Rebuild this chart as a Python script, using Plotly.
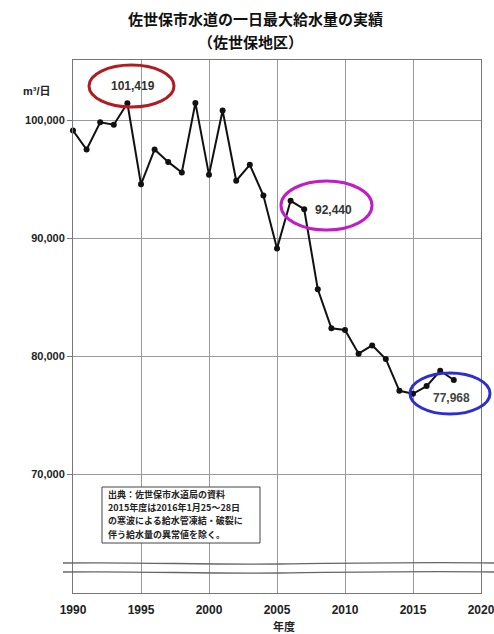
import plotly.graph_objects as go

years = list(range(1990, 2019))
supply = [99100, 97500, 99800, 99600, 101419, 94550, 97500, 96450, 95550, 101450,
          95350, 100800, 94850, 96200, 93600, 89100, 93150, 92440, 85650, 82350,
          82200, 80200, 80900, 79750, 77050, 76800, 77450, 78750, 77968]
y_ticks = [70000, 80000, 90000, 100000]
y_ticktext = ["70,000", "80,000", "90,000", "100,000"]
x_ticks = [1990, 1995, 2000, 2005, 2010, 2015, 2020]
note_lines = ["出典：佐世保市水道局の資料", "2015年度は2016年1月25～28日",
              "の寒波による給水管凍結・破裂に", "伴う給水量の異常値を除く。"]

W, H = 494, 634
L, R, T, B = 73, 481, 60, 593
JP = "Noto Sans CJK JP"
NUM = "Liberation Sans, Noto Sans CJK JP"


def px(x):
    return (x - L) / (R - L)


def py(y):
    return (B - y) / (B - T)


fig = go.Figure()
fig.add_trace(go.Scatter(
    x=years, y=supply, mode="lines+markers",
    line=dict(color="#111111", width=2),
    marker=dict(color="#111111", size=6),
    showlegend=False, hoverinfo="x+y", cliponaxis=False,
))

shapes = []
for (x0, y0, x1, y1, col) in [(89, 65, 174, 107, "#B01C22"),
                               (281, 181, 372, 230, "#C21BC8"),
                               (410, 373, 490, 414, "#2B2ED0")]:
    shapes.append(dict(type="circle", xref="paper", yref="paper",
                       x0=px(x0), x1=px(x1), y0=py(y1), y1=py(y0),
                       line=dict(color=col, width=3)))
for yb in (563, 572):
    path = "M {:.4f},{:.4f} C {:.4f},{:.4f} {:.4f},{:.4f} {:.4f},{:.4f} S {:.4f},{:.4f} {:.4f},{:.4f}".format(
        px(63), py(yb), px(150), py(yb - 1), px(200), py(yb + 2), px(280), py(yb + 1),
        px(420), py(yb - 1), px(494), py(yb))
    shapes.append(dict(type="path", xref="paper", yref="paper", path=path,
                       line=dict(color="#666666", width=1.3)))
shapes.append(dict(type="rect", xref="paper", yref="paper",
                   x0=px(102), x1=px(260), y0=py(543), y1=py(487),
                   line=dict(color="#444444", width=1), fillcolor="white"))

annotations = [
    dict(text="<b>佐世保市水道の一日最大給水量の実績</b>", x=px(255), y=py(18),
         font=dict(family=JP, size=15, color="#111111")),
    dict(text="<b>（佐世保地区）</b>", x=px(250), y=py(41),
         font=dict(family=JP, size=15, color="#111111")),
    dict(text="<b>m³/日</b>", x=px(37), y=py(91),
         font=dict(family=NUM, size=11, color="#222222")),
    dict(text="<b>101,419</b>", x=px(133), y=py(86),
         font=dict(family=NUM, size=12, color="#333333")),
    dict(text="<b>92,440</b>", x=px(333), y=py(210),
         font=dict(family=NUM, size=12, color="#333333")),
    dict(text="<b>77,968</b>", x=px(451), y=py(398),
         font=dict(family=NUM, size=12, color="#444444")),
    dict(text="<b>年度</b>", x=px(284), y=py(626),
         font=dict(family=JP, size=11, color="#222222")),
]
for i, t in enumerate(note_lines):
    annotations.append(dict(text="<b>" + t + "</b>", x=px(106), y=py(494.5 + i * 13.2),
                            xanchor="left",
                            font=dict(family=JP, size=9, color="#222222")))
for a in annotations:
    a.setdefault("xref", "paper")
    a.setdefault("yref", "paper")
    a.setdefault("showarrow", False)
    a.setdefault("xanchor", "center")
    a.setdefault("yanchor", "middle")

fig.update_layout(
    width=W, height=H,
    margin=dict(l=L, r=W - R, t=T, b=H - B, autoexpand=False),
    paper_bgcolor="white", plot_bgcolor="white",
    shapes=shapes, annotations=annotations,
    xaxis=dict(range=[1990, 2020], tickvals=x_ticks, showgrid=True, automargin=False,
               gridcolor="#9a9a9a", gridwidth=1, showline=True, linecolor="#777777",
               mirror=True, ticks="", zeroline=False, ticklabelstandoff=6,
               ticklabeloverflow="allow",
               tickfont=dict(family=NUM, size=12, color="#222222", weight="bold")),
    yaxis=dict(range=[59915, 105085], tickvals=y_ticks, ticktext=y_ticktext,
               showgrid=True, gridcolor="#9a9a9a", gridwidth=1, showline=True,
               linecolor="#777777", mirror=True, ticks="outside", ticklen=5,
               tickcolor="#777777", zeroline=False, automargin=False,
               tickfont=dict(family=NUM, size=11, color="#222222", weight="bold")),
)
fig.write_html("out.html")
